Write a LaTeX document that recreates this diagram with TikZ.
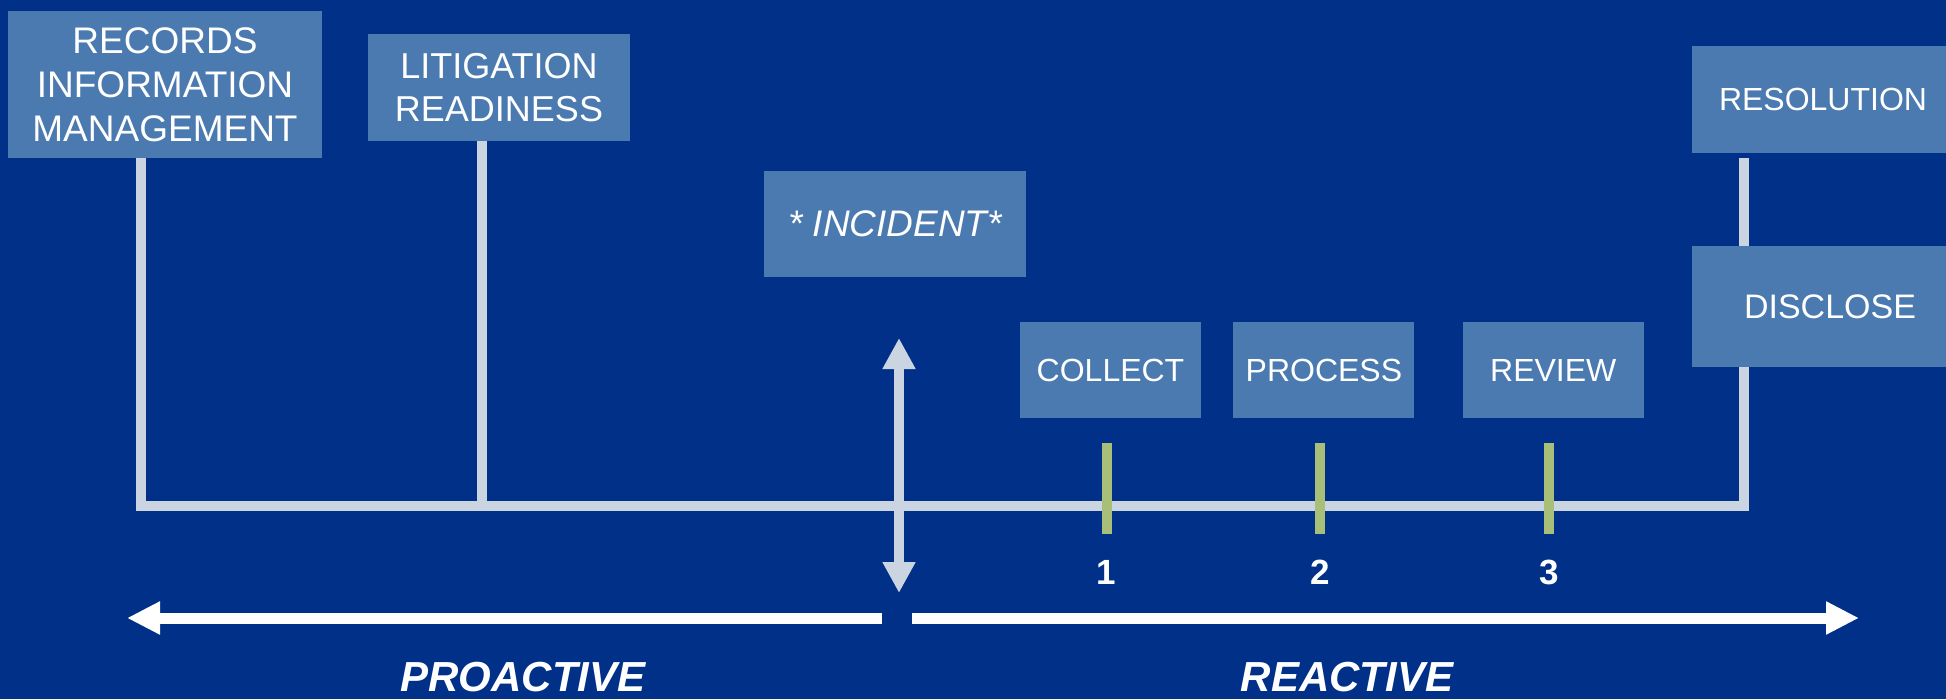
\documentclass[tikz,border=0pt]{standalone}
\usepackage{fontspec}
\setmainfont{Liberation Sans}
\usetikzlibrary{arrows.meta,positioning}
\definecolor{bgblue}{RGB}{0,48,135}
\definecolor{boxblue}{RGB}{74,122,176}
\definecolor{railgray}{RGB}{203,213,225}
\definecolor{tickgreen}{RGB}{169,190,120}
\tikzset{
  box/.style={fill=boxblue, text=white, inner sep=0pt, align=center},
  stepbox/.style={box, minimum width=181pt, minimum height=96pt, font=\fontsize{32}{38}\selectfont},
  rail/.style={draw=railgray, line width=10pt, line join=miter},
  tickmark/.style={draw=tickgreen, line width=10pt},
  numlabel/.style={text=white, inner sep=0pt, font=\bfseries\fontsize{35}{40}\selectfont},
  phase/.style={draw=white, line width=11pt, -{Triangle[width=31pt,length=33pt]}},
  phaselabel/.style={text=white, inner sep=0pt, font=\bfseries\itshape\fontsize{42}{48}\selectfont},
  updown/.style={rail, {Triangle[width=31pt,length=31pt]}-{Triangle[width=31pt,length=31pt]}},
}
\begin{document}
\begin{tikzpicture}[x=1pt,y=-1pt]
  \fill[bgblue] (0,0) rectangle (1946,699);
  \useasboundingbox (0,0) rectangle (1946,699);

  \node (rim) [box, minimum width=314pt, minimum height=147pt,
    font=\fontsize{37}{44}\selectfont] at (165,84.5) {RECORDS\\INFORMATION\\MANAGEMENT};
  \node (lit) [box, minimum width=262pt, minimum height=107pt,
    font=\fontsize{36}{43}\selectfont] at (499,87.5) {LITIGATION\\READINESS};
  \node (incident) [box, minimum width=262pt, minimum height=106pt,
    font=\itshape\fontsize{37}{44}\selectfont] at (895,224) {* INCIDENT*};

  \node (collect) [stepbox] at (1110.5,370) {COLLECT};
  \node (process) [stepbox, right=32pt of collect] {PROCESS};
  \node (review)  [stepbox, right=48pt of process] {REVIEW};

  \node (resolution) [box, minimum width=254pt, minimum height=107pt,
    font=\fontsize{32}{38}\selectfont] at (1819,99.5) {\hspace*{8pt}RESOLUTION};

  % timeline
  \coordinate (railL) at (141,506);
  \coordinate (railR) at (1744,506);
  \coordinate (litfoot) at (482,506);
  \draw [rail] (rim.south -| railL) -- (railL) -- (railR)
    -- ([yshift=-5pt]resolution.south -| railR);
  \draw [rail] (lit.south -| litfoot) -- (litfoot);

  \coordinate (incup) at (899,338);
  \coordinate (incdown) at (899,593);
  \draw [updown] (incup) -- (incdown);

  \node (disclose) [box, minimum width=254pt, minimum height=121pt,
    font=\fontsize{34}{40}\selectfont] at (1819,306.5) {\hspace*{22pt}DISCLOSE};

  \foreach \s/\n in {collect/1, process/2, review/3} {
    \draw [tickmark] ([xshift=-4pt,yshift=-25pt]\s.south) -- ([xshift=-4pt,yshift=-116pt]\s.south);
    \node (num\n) [numlabel] at ([xshift=-4pt,yshift=-154pt]\s.south) {\n};
  }

  % proactive / reactive
  \coordinate (split) at (897,618);
  \coordinate (pastend) at (127,618);
  \coordinate (futureend) at (1859,618);
  \draw [phase] ([xshift=-15pt]split) -- (pastend);
  \draw [phase] ([xshift=15pt]split) -- (futureend);
  \node (proactive) [phaselabel] at (523,677) {PROACTIVE};
  \node (reactive)  [phaselabel] at (1347,677) {REACTIVE};
\end{tikzpicture}
\end{document}
